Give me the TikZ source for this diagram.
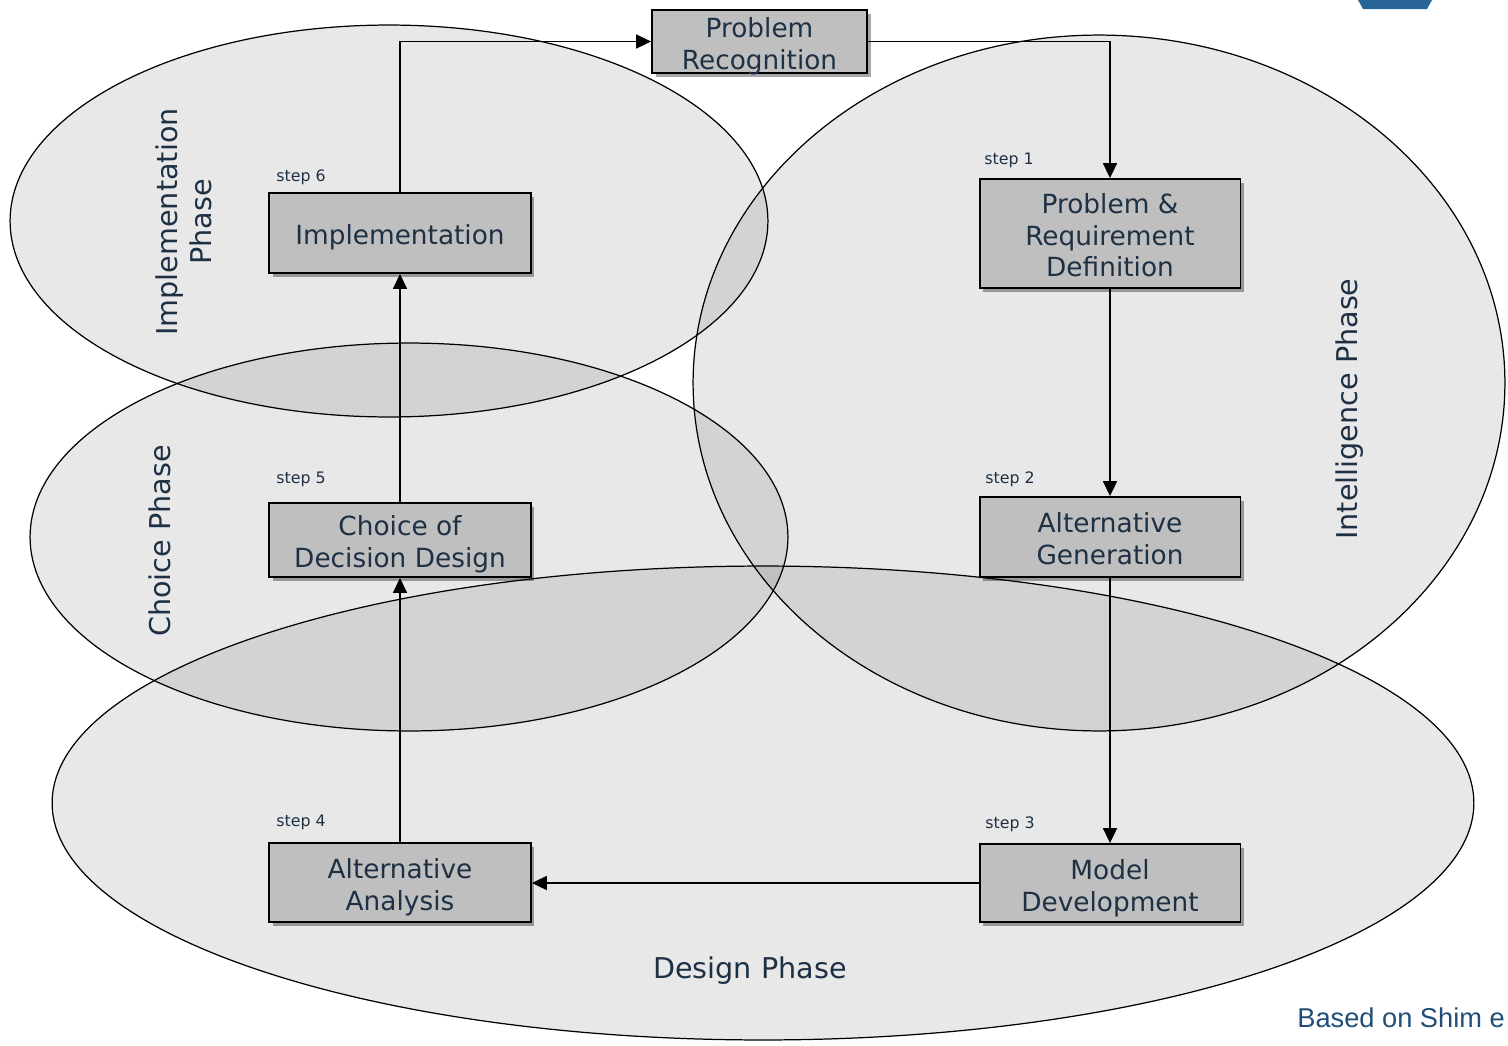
\documentclass[tikz,border=0pt]{standalone}
\usepackage{fontspec}
\setmainfont{DejaVu Sans}
\newfontfamily\arialf{Liberation Sans}
\usetikzlibrary{arrows.meta,shadows}
\definecolor{txt}{RGB}{30,48,68}
\definecolor{boxfill}{RGB}{191,191,191}
\definecolor{cite}{RGB}{31,78,121}
\definecolor{tab}{RGB}{40,100,150}
\newcommand{\toppad}[1]{\rule{0pt}{#1pt}}
\newcommand{\nodepth}[1]{\raisebox{0pt}[\height][0pt]{#1}}
\tikzset{
  phase/.style={draw=black, line width=0.7pt, fill=black, fill opacity=0.09, draw opacity=1},
  stepbox/.style={draw=black, line width=1.1pt, fill=boxfill, text=txt, align=center,
    font=\fontsize{15}{18}\selectfont, inner sep=0pt,
    drop shadow={shadow xshift=2pt, shadow yshift=-2pt, opacity=0.35, fill=black}},
  steplabel/.style={anchor=west, inner sep=0pt, text=txt, font=\fontsize{9}{11}\selectfont},
  phaselabel/.style={text=txt, align=center, font=\fontsize{16.3}{19}\selectfont, inner sep=0pt},
  conn/.style={draw=black, line width=0.85pt, -{Triangle[length=8.5pt,width=8pt]}}
}
\begin{document}
\begin{tikzpicture}[x=0.02cm,y=-0.02cm]
\useasboundingbox (0,0) rectangle (1508,1045);
% phase ellipses
\path[phase] (389,221) ellipse [x radius=7.58cm, y radius=3.92cm];
\path[phase] (409,537) ellipse [x radius=7.58cm, y radius=3.88cm];
\path[phase] (1099,383) ellipse [x radius=8.12cm, y radius=6.96cm];
\path[phase] (763,803) ellipse [x radius=14.22cm, y radius=4.74cm];
% top-right tab
\fill[tab] (1358,0) -- (1432,0) -- (1427,9) -- (1363,9) -- cycle;
% boxes
\node[stepbox, minimum width=4.3cm, minimum height=1.26cm] (pr) at (759.5,41.5) {\toppad{13.5}Problem\\\nodepth{Recognition}};
\node[stepbox, minimum width=5.24cm, minimum height=1.6cm] (impl) at (400,233) {\toppad{16}Implementation};
\node[stepbox, minimum width=5.22cm, minimum height=2.18cm] (prd) at (1110,233.5) {\toppad{13.4}Problem \&\\Requirement\\Definition};
\node[stepbox, minimum width=5.24cm, minimum height=1.48cm] (choice) at (400,540) {\toppad{16}Choice of\\Decision Design};
\node[stepbox, minimum width=5.22cm, minimum height=1.6cm] (altgen) at (1110,537) {\toppad{13.2}Alternative\\Generation};
\node[stepbox, minimum width=5.24cm, minimum height=1.58cm] (altan) at (400,882.5) {\toppad{17}Alternative\\Analysis};
\node[stepbox, minimum width=5.22cm, minimum height=1.56cm] (model) at (1110,883) {\toppad{17}Model\\Development};
% connectors
\draw[conn] (impl.north) |- (pr.west);
\draw[conn] (pr.east) -| (prd.north);
\draw[conn] (prd.south) -- (altgen.north);
\draw[conn] (altgen.south) -- (model.north);
\draw[conn] (model.west) -- (altan.east |- model.west);
\draw[conn] (altan.north) -- (choice.south);
\draw[conn] (choice.north) -- (impl.south);
% step labels
\node[steplabel] (s6) at (276,177) {step 6};
\node[steplabel] (s1) at (984,160) {step 1};
\node[steplabel] (s5) at (276,479) {step 5};
\node[steplabel] (s2) at (985,479) {step 2};
\node[steplabel] (s4) at (276,822) {step 4};
\node[steplabel] (s3) at (985,824) {step 3};
% phase labels
\node[phaselabel, rotate=90] (pimpl) at (184,222) {Implementation\\Phase};
\node[phaselabel, rotate=90] (pchoice) at (160,541) {Choice Phase};
\node[phaselabel, rotate=90] (pint) at (1350,409) {Intelligence Phase};
\node[phaselabel] (pdes) at (750,971) {Design Phase};
% citation
\node[anchor=west, inner sep=0pt, text=cite, font=\arialf\fontsize{15.5}{18}\selectfont] (cit) at (1297,1018) {Based on Shim e};
\end{tikzpicture}
\end{document}
